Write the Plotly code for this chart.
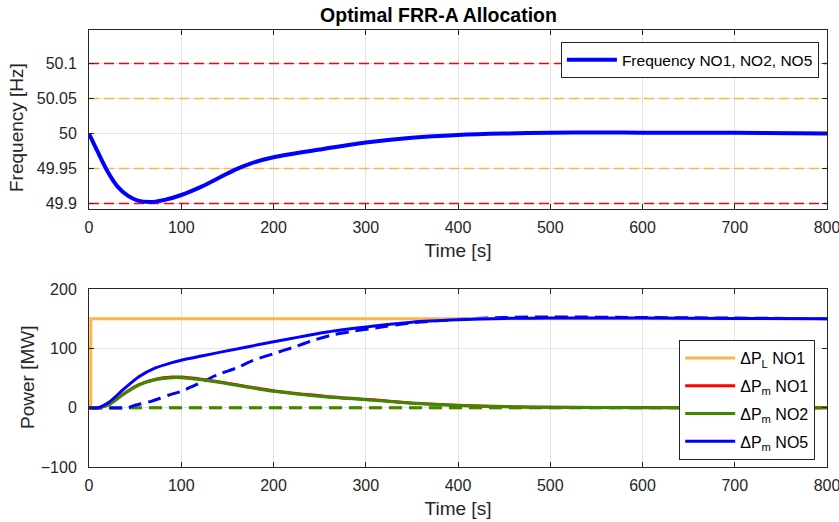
import plotly.graph_objects as go
from plotly.subplots import make_subplots

# ---- data ----
t_freq = [0, 9, 20, 31, 42, 53, 67, 82, 100, 122, 140, 158, 175, 200, 250, 300, 350, 400, 450, 500, 550, 600, 700, 800]
f_sys = [50.0, 49.975, 49.946, 49.924, 49.911, 49.904, 49.902, 49.905, 49.912, 49.924, 49.936, 49.948,
         49.957, 49.966, 49.977, 49.987, 49.994, 49.998, 50.000, 50.001, 50.0015, 50.0012, 50.001, 50.000]
f_limits_red = [49.9, 50.1]
f_limits_orange = [49.95, 50.05]

t_load = [0, 2, 2, 800]
dPL_NO1 = [0, 0, 150, 150]

t_m = [0, 10, 22, 36, 54, 72, 90, 100, 122, 144, 200, 258, 309, 350, 400, 450, 500, 600, 700, 800]
dPm_NO1 = [0, 0, 5.5, 22, 39, 48, 51.6, 51.6, 48, 43, 28.5, 19, 13.2, 8, 4, 1.8, 0.7, 0.1, 0, 0]
dPm_NO2 = [0, 0, 5, 21, 38, 47, 50.6, 50.6, 47, 42, 27.5, 18, 12.4, 7.5, 3.6, 1.5, 0.5, 0, 0, 0]
dPm_NO5 = [0, 0, 9.5, 29, 52, 67, 76, 80, 87, 94, 111, 127.6, 137.7, 144, 148, 150.5, 151, 151, 150.5, 150]

t_ref = [0, 42, 50, 68, 86, 100, 118, 140, 160, 178, 200, 222, 243, 265, 287, 309, 350, 400, 450, 500, 600, 700, 800]
dPref_NO5 = [0, 0, 4, 11, 21, 27.5, 40, 56, 67, 80, 91, 102, 113.5, 123, 129, 134, 143, 149, 152, 153, 152, 151, 150]
t_zero = [0, 800]
zero_line = [0, 0]

x_ticks = [0, 100, 200, 300, 400, 500, 600, 700, 800]
f_ticks = [49.9, 49.95, 50, 50.05, 50.1]
f_ticktext = ["49.9", "49.95", "50", "50.05", "50.1"]
p_ticks = [-100, 0, 100, 200]

# ---- styles ----
BLUE = "#0000FF"
RED = "#FF0000"
GREEN = "#3A8A00"
ORANGE = "#FFB54F"
AX = "#262626"
GRID = "#E3E3E3"
FONT = "Liberation Sans, Arial, Helvetica, sans-serif"

fig = make_subplots(rows=2, cols=1, vertical_spacing=0.183)

# top: limit lines
for v in f_limits_red:
    fig.add_trace(go.Scatter(x=t_zero, y=[v, v], mode="lines", line=dict(color=RED, width=1.5, dash="10px,5px"),
                             showlegend=False, hoverinfo="skip"), row=1, col=1)
for v in f_limits_orange:
    fig.add_trace(go.Scatter(x=t_zero, y=[v, v], mode="lines", line=dict(color=ORANGE, width=1.5, dash="10px,5px"),
                             showlegend=False, hoverinfo="skip"), row=1, col=1)
fig.add_trace(go.Scatter(x=t_freq, y=f_sys, mode="lines", name="Frequency NO1, NO2, NO5",
                         line=dict(color=BLUE, width=4, shape="spline", smoothing=0.8),
                         legend="legend"), row=1, col=1)

# bottom: dashed (no legend)
fig.add_trace(go.Scatter(x=t_zero, y=zero_line, mode="lines", line=dict(color=ORANGE, width=3, dash="13px,7px"),
                         showlegend=False, hoverinfo="skip"), row=2, col=1)
fig.add_trace(go.Scatter(x=t_zero, y=zero_line, mode="lines", line=dict(color=GREEN, width=3, dash="13px,7px"),
                         showlegend=False, hoverinfo="skip"), row=2, col=1)
fig.add_trace(go.Scatter(x=t_ref, y=dPref_NO5, mode="lines",
                         line=dict(color=BLUE, width=3, dash="13px,7px", shape="spline", smoothing=0.6),
                         showlegend=False, hoverinfo="skip"), row=2, col=1)

# bottom: solid
fig.add_trace(go.Scatter(x=t_load, y=dPL_NO1, mode="lines", name="ΔP<sub>L</sub> NO1",
                         line=dict(color=ORANGE, width=3), legend="legend2", legendgroup="a"), row=2, col=1)
fig.add_trace(go.Scatter(x=t_m, y=dPm_NO1, mode="lines", name="ΔP<sub>m</sub> NO1",
                         line=dict(color=RED, width=3, shape="spline", smoothing=0.6), legend="legend2", legendgroup="b"), row=2, col=1)
fig.add_trace(go.Scatter(x=t_m, y=dPm_NO2, mode="lines", name="ΔP<sub>m</sub> NO2",
                         line=dict(color=GREEN, width=3, shape="spline", smoothing=0.6), legend="legend2", legendgroup="c"), row=2, col=1)
fig.add_trace(go.Scatter(x=t_m, y=dPm_NO5, mode="lines", name="ΔP<sub>m</sub> NO5",
                         line=dict(color=BLUE, width=3, shape="spline", smoothing=0.6), legend="legend2", legendgroup="d"), row=2, col=1)

axis_common = dict(showline=True, linecolor=AX, linewidth=1, mirror="ticks", ticks="inside", ticklen=5,
                   tickcolor=AX, showgrid=True, gridcolor=GRID, gridwidth=1, zeroline=False, automargin=False,
                   tickfont=dict(family=FONT, size=16, color=AX))

fig.update_xaxes(**axis_common, range=[0, 800], tickvals=x_ticks, ticklabeloverflow="allow",
                 ticklabelstandoff=4,
                 title=dict(text="Time [s]", font=dict(family=FONT, size=19, color=AX), standoff=8))
fig.update_yaxes(**axis_common, row=1, col=1, range=[49.892, 50.148], tickvals=f_ticks, ticktext=f_ticktext,
                 ticklabelstandoff=8)
fig.update_yaxes(**axis_common, row=2, col=1, range=[-100, 200], tickvals=p_ticks,
                 ticklabelstandoff=8)

fig.update_layout(
    width=839, height=522,
    margin=dict(l=89, r=12, t=30, b=55),
    paper_bgcolor="white", plot_bgcolor="white",
    font=dict(family=FONT, color=AX),
    title=dict(text="<b>Optimal FRR-A Allocation</b>", x=438.5 / 839, xanchor="center", y=1 - 15 / 522,
               yanchor="middle", xref="container", font=dict(family=FONT, size=19.5, color="#000000")),
    legend=dict(x=0.989, xanchor="right", y=0.972, yanchor="top", bordercolor=AX, borderwidth=1,
                bgcolor="white", font=dict(family=FONT, size=15.5, color="#000000"), itemwidth=50),
    legend2=dict(x=0.984, xanchor="right", y=0.016, yanchor="bottom", bordercolor=AX, borderwidth=1,
                 bgcolor="white", font=dict(family=FONT, size=16, color="#000000"), itemwidth=50,
                 tracegroupgap=4),
    annotations=[
        dict(text="Frequency [Hz]", textangle=-90, xref="paper", yref="paper",
             x=(16 - 89) / 738, y=(467 - 128) / 437, xanchor="center", yanchor="middle", showarrow=False,
             font=dict(family=FONT, size=19, color=AX)),
        dict(text="Power [MW]", textangle=-90, xref="paper", yref="paper",
             x=(27 - 89) / 738, y=(467 - 378) / 437, xanchor="center", yanchor="middle", showarrow=False,
             font=dict(family=FONT, size=19, color=AX)),
    ],
)
fig.layout.yaxis.domain = [0.5904, 1.0]
fig.layout.yaxis2.domain = [0.0, 0.4073]

fig.write_html("out.html")
